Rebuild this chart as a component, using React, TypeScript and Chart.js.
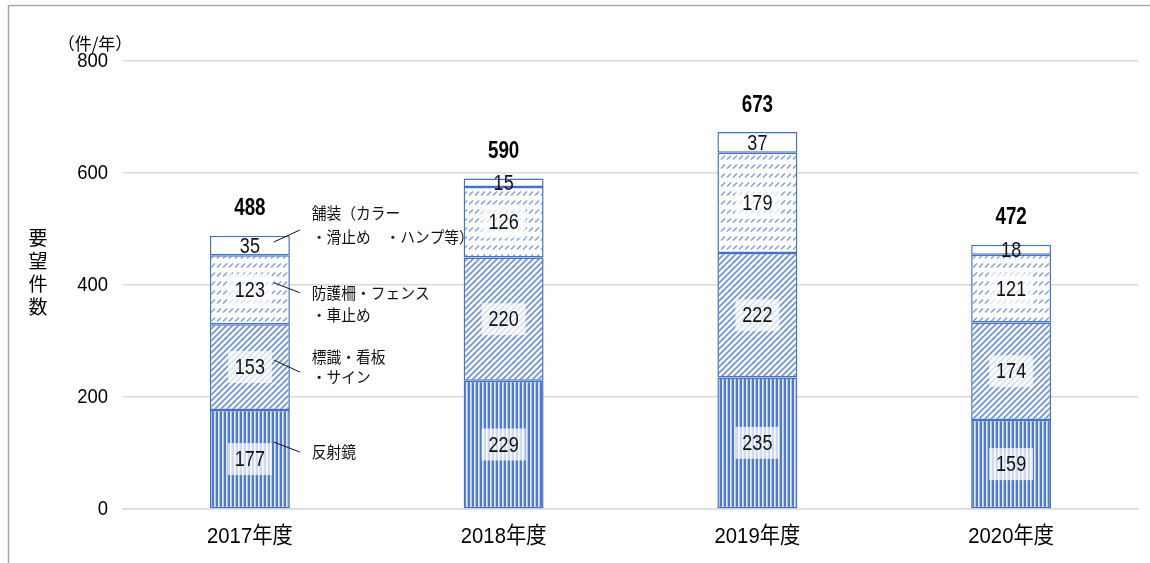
import React, { useEffect, useRef } from "react";
import { Chart, registerables } from "chart.js";

Chart.register(...registerables);

const categories = ["2017年度", "2018年度", "2019年度", "2020年度"];
const seriesNames = ["反射鏡", "標識・看板・サイン", "防護柵・フェンス・車止め", "舗装（カラー・滑止め・ハンプ等）"];
const reflectors = [177, 229, 235, 159];
const signs = [153, 220, 222, 174];
const fences = [123, 126, 179, 121];
const paving = [35, 15, 37, 18];
const totals = [488, 590, 673, 472];
const yTicks = [0, 200, 400, 600, 800];
const unitLabel = "（件/年）";
const yTitle = ["要", "望", "件", "数"];
const annotationTexts = [
  ["反射鏡"],
  ["標識・看板", "・サイン"],
  ["防護柵・フェンス", "・車止め"],
  ["舗装（カラー", "・滑止め　・ハンプ等）"],
];

const NUM_FONT = '"Liberation Sans", "Noto Sans CJK JP", sans-serif';
const JP_FONT = '"Noto Sans CJK JP", sans-serif';
const BLUE = "#4472C4";

function drawScaled(
  ctx: CanvasRenderingContext2D,
  text: string,
  x: number,
  y: number,
  align: "left" | "center" | "right",
  sx: number
) {
  ctx.save();
  ctx.translate(x, y);
  ctx.scale(sx, 1);
  ctx.textAlign = align;
  ctx.textBaseline = "middle";
  ctx.fillText(text, 0, 0);
  ctx.restore();
}

function makePattern(w: number, h: number, draw: (ctx: CanvasRenderingContext2D) => void) {
  const c = document.createElement("canvas");
  c.width = w;
  c.height = h;
  const ctx = c.getContext("2d")!;
  draw(ctx);
  return ctx.createPattern(c, "repeat")!;
}

function verticalPattern() {
  return makePattern(4, 4, (ctx) => {
    ctx.fillStyle = "#e4ebf8";
    ctx.fillRect(0, 0, 4, 4);
    ctx.fillStyle = "#b3c6ea";
    ctx.fillRect(3, 0, 1, 4);
    ctx.fillStyle = "#4d7acd";
    ctx.fillRect(0, 0, 2, 4);
  });
}

function diagonalPattern() {
  return makePattern(6, 6, (ctx) => {
    ctx.fillStyle = "#ffffff";
    ctx.fillRect(0, 0, 6, 6);
    ctx.strokeStyle = "#6f93d8";
    ctx.lineWidth = 1.7;
    ctx.beginPath();
    ctx.moveTo(-1, 7);
    ctx.lineTo(7, -1);
    ctx.moveTo(-1, 1);
    ctx.lineTo(1, -1);
    ctx.moveTo(5, 7);
    ctx.lineTo(7, 5);
    ctx.stroke();
  });
}

function dashedPattern() {
  return makePattern(6, 9, (ctx) => {
    ctx.fillStyle = "#ffffff";
    ctx.fillRect(0, 0, 6, 9);
    ctx.strokeStyle = "#7d9ddf";
    ctx.lineWidth = 1.5;
    ctx.beginPath();
    ctx.moveTo(1, 6.5);
    ctx.lineTo(5, 2.5);
    ctx.stroke();
  });
}

const labelPlugin = {
  id: "customLabels",
  beforeDraw(chart: any) {
    const ctx = chart.ctx;
    ctx.save();
    ctx.strokeStyle = "#a6a6a6";
    ctx.lineWidth = 1.5;
    ctx.beginPath();
    ctx.moveTo(8.5, chart.height);
    ctx.lineTo(8.5, 5.5);
    ctx.lineTo(chart.width, 5.5);
    ctx.stroke();
    ctx.restore();
  },
  afterDatasetsDraw(chart: any) {
    const ctx = chart.ctx;
    const area = chart.chartArea;
    const yScale = chart.scales.y;
    const xScale = chart.scales.x;
    ctx.save();
    ctx.fillStyle = "#000";
    // y tick labels
    ctx.font = `21px ${NUM_FONT}`;
    yTicks.forEach((v) => {
      drawScaled(ctx, String(v), area.left - 15, yScale.getPixelForValue(v), "right", 0.88);
    });
    // x tick labels
    ctx.font = `22.5px ${NUM_FONT}`;
    categories.forEach((c, j) => {
      drawScaled(ctx, c, xScale.getPixelForValue(j), area.bottom + 28, "center", 0.9);
    });
    // segment value labels
    chart.data.datasets.forEach((ds: any, i: number) => {
      const meta = chart.getDatasetMeta(i);
      meta.data.forEach((el: any, j: number) => {
        const v = ds.data[j];
        const cy = (el.y + el.base) / 2;
        const text = String(v);
        ctx.font = `22.5px ${NUM_FONT}`;
        const tw = ctx.measureText(text).width * 0.8;
        if (i < 3) {
          ctx.fillStyle = "rgba(255,255,255,0.72)";
          ctx.fillRect(el.x - tw / 2 - 7, cy - 16, tw + 14, 32);
        }
        ctx.fillStyle = "#111";
        drawScaled(ctx, text, el.x, cy + 1, "center", 0.8);
      });
    });
    // totals
    const lastMeta = chart.getDatasetMeta(chart.data.datasets.length - 1);
    totals.forEach((t, j) => {
      const el: any = lastMeta.data[j];
      const y = yScale.getPixelForValue(t);
      ctx.font = `bold 23.5px ${NUM_FONT}`;
      ctx.fillStyle = "#000";
      drawScaled(ctx, String(t), el.x, y - 27, "center", 0.8);
    });
    // annotations on first bar
    const offsets = [
      { l1: -17, l2: -7, t: [-7] },
      { l1: -7, l2: 5, t: [-10, 10] },
      { l1: -7, l2: 3, t: [3, 25] },
      { l1: -3.5, l2: -15.5, t: [-32.5, -8.5] },
    ];
    chart.data.datasets.forEach((ds: any, i: number) => {
      const el: any = chart.getDatasetMeta(i).data[0];
      const cy = (el.y + el.base) / 2;
      const rx = el.x + el.width / 2;
      const o = offsets[i];
      ctx.strokeStyle = "#111";
      ctx.lineWidth = 1;
      ctx.beginPath();
      ctx.moveTo(rx - 16, cy + o.l1);
      ctx.lineTo(rx + 10, cy + o.l2);
      ctx.stroke();
      ctx.font = `15.5px ${JP_FONT}`;
      ctx.fillStyle = "#111";
      annotationTexts[i].forEach((line, k) => {
        drawScaled(ctx, line, rx + 22, cy + o.t[k], "left", 0.95);
      });
    });
    // unit label and y title
    ctx.font = `17px ${JP_FONT}`;
    ctx.fillStyle = "#000";
    drawScaled(ctx, unitLabel, 95, area.top - 17, "center", 1);
    ctx.font = `19px ${JP_FONT}`;
    const mid = (area.top + area.bottom) / 2;
    yTitle.forEach((ch, k) => {
      drawScaled(ctx, ch, 38, mid - 47 + k * 23, "center", 1);
    });
    ctx.restore();
  },
};

export default function App() {
  const ref = useRef<HTMLCanvasElement>(null);
  useEffect(() => {
    if (!ref.current) return;
    const common = {
      borderColor: BLUE,
      borderWidth: 1.5,
      borderSkipped: false as const,
      categoryPercentage: 0.315,
      barPercentage: 1,
    };
    const chart = new Chart(ref.current, {
      type: "bar",
      data: {
        labels: categories,
        datasets: [
          { label: seriesNames[0], data: reflectors, backgroundColor: verticalPattern(), ...common },
          { label: seriesNames[1], data: signs, backgroundColor: diagonalPattern(), ...common },
          { label: seriesNames[2], data: fences, backgroundColor: dashedPattern(), ...common },
          { label: seriesNames[3], data: paving, backgroundColor: "#ffffff", ...common },
        ],
      },
      options: {
        responsive: false,
        animation: false,
        layout: { padding: { left: 0, right: 12, top: 61, bottom: 0 } },
        plugins: { legend: { display: false }, tooltip: { enabled: false } },
        scales: {
          x: {
            stacked: true,
            grid: { display: false },
            border: { color: "#d9d9d9", width: 1.5 },
            ticks: { display: false },
            afterFit: (s: any) => {
              s.height = 54;
            },
          },
          y: {
            stacked: true,
            min: 0,
            max: 800,
            afterBuildTicks: (s: any) => {
              s.ticks = yTicks.map((v) => ({ value: v }));
            },
            grid: { color: "#d9d9d9", lineWidth: 1.5, drawTicks: false },
            border: { display: false },
            ticks: { display: false },
            afterFit: (s: any) => {
              s.width = 123;
            },
          },
        },
      },
      plugins: [labelPlugin],
    });
    return () => chart.destroy();
  }, []);
  return (
    <div style={{ position: "absolute", left: 0, top: 0, width: 1150, height: 563, background: "#fff" }}>
      <canvas ref={ref} width={1150} height={563} style={{ width: 1150, height: 563, display: "block" }} />
    </div>
  );
}
